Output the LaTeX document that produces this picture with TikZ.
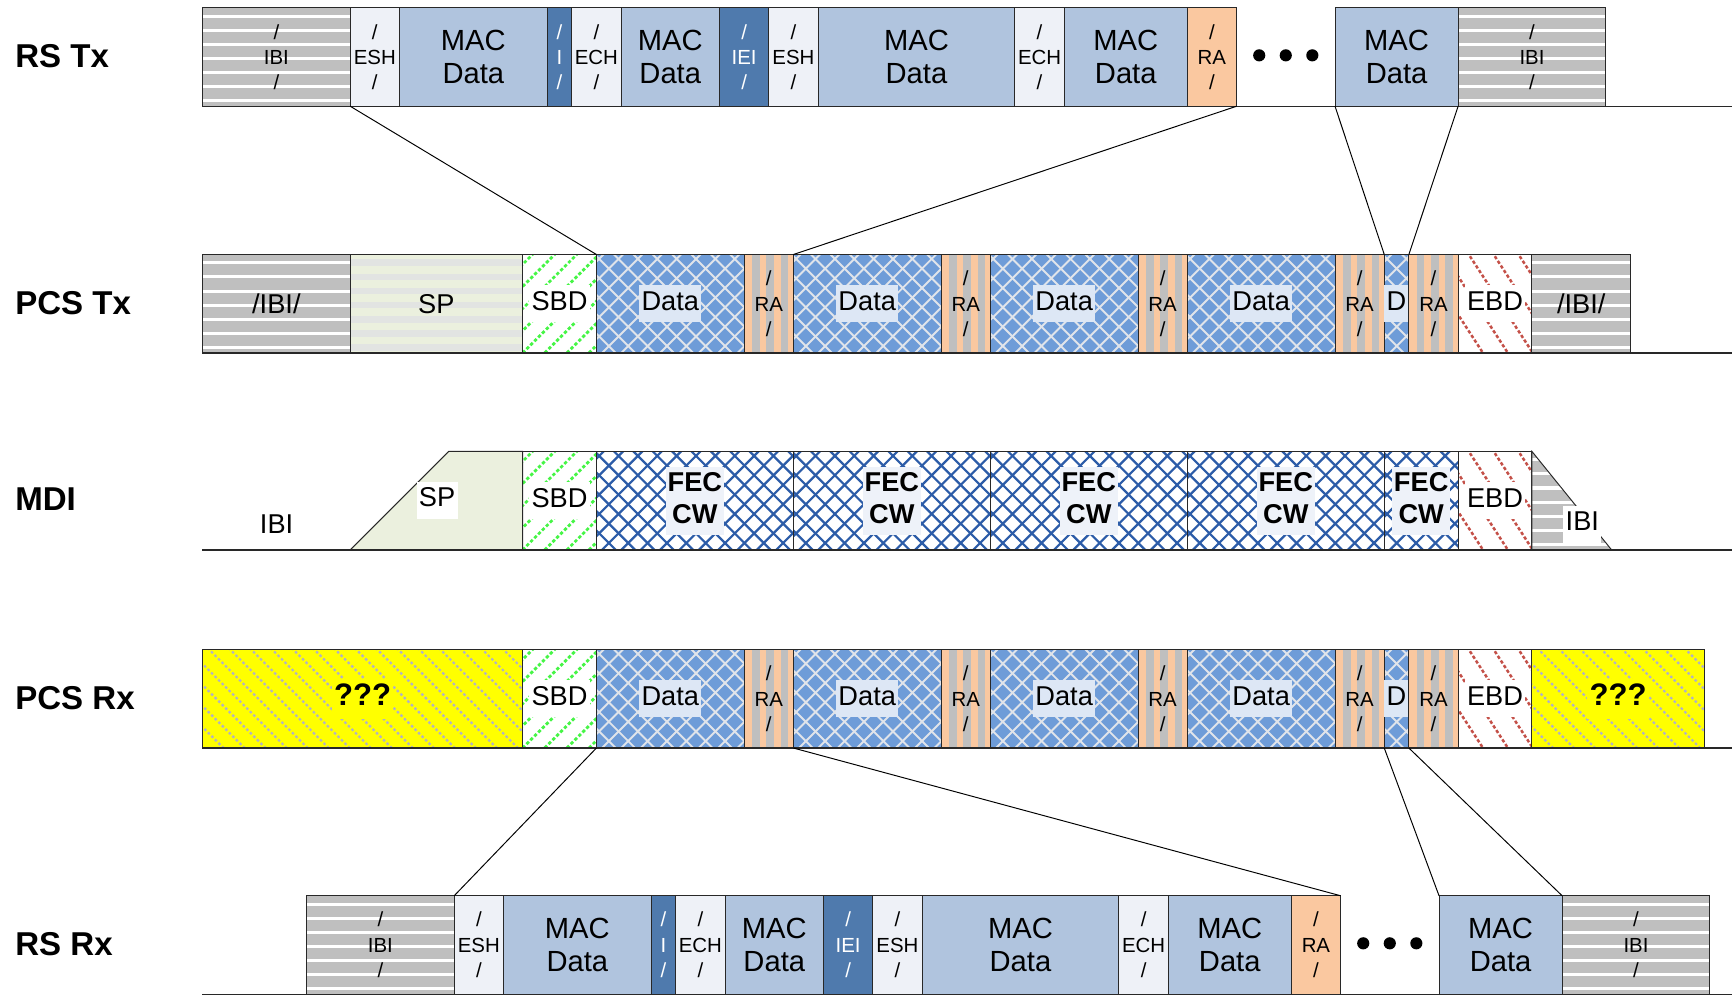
\documentclass[tikz,border=0pt]{standalone}
\usepackage{fontspec}
\setmainfont{Liberation Sans}
\usepackage{xcolor}
\usepackage{tikz}
\usetikzlibrary{
  positioning,
  calc
}
\definecolor{ibigray}{RGB}{191,191,191}
\definecolor{hdrblue}{RGB}{238,241,247}
\definecolor{macblue}{RGB}{176,196,222}
\definecolor{idleblue}{RGB}{79,122,173}
\definecolor{rapeach}{RGB}{250,200,160}
\definecolor{datablue}{RGB}{110,156,216}
\definecolor{databg}{RGB}{221,231,245}
\definecolor{datagrid}{RGB}{224,228,234}
\definecolor{fecblue}{RGB}{44,92,168}
\definecolor{fecbg}{RGB}{238,242,249}
\definecolor{sbdgreen}{RGB}{70,245,70}
\definecolor{ebdred}{RGB}{196,80,72}
\definecolor{unkyellow}{RGB}{255,255,0}
\definecolor{unkgrid}{RGB}{178,178,196}
\definecolor{spgreen}{RGB}{235,240,222}
\definecolor{spstripe}{RGB}{226,228,226}
\definecolor{outline}{RGB}{40,40,40}
\newcommand{\smalltxt}{\fontsize{10.5}{13}\selectfont}
\newcommand{\bigtxt}{\fontsize{15}{16.5}\selectfont}
\newcommand{\midtxt}{\fontsize{14}{16.5}\selectfont}
\newcommand{\rowtxt}{\fontsize{17}{20}\selectfont\bfseries}
\newcommand{\unktxt}{\fontsize{16}{18}\selectfont\bfseries}
\newcommand{\onbg}[2]{{\setlength{\fboxsep}{1.2pt}\colorbox{#1}{\strut #2}}}
\newcommand{\fectext}{{\setlength{\fboxsep}{1pt}\colorbox{fecbg}{\begin{tabular}{@{}c@{}}FEC\\CW\end{tabular}}}}
\newcommand{\slotw}{8.9mm}

\begin{document}
\begin{tikzpicture}[
  seg/.style={rectangle,draw=outline,line width=0.5pt,inner sep=0pt,outer sep=0pt,minimum height=17.8mm,align=center},
  ibi/.style={seg,fill=ibigray,font=\smalltxt,
    path picture={
      \foreach \k in {0,...,6}
        \draw[white,line width=0.55mm]
          ([yshift=-1.5mm-\k*2.55mm]path picture bounding box.north west) --
          ([yshift=-1.5mm-\k*2.55mm]path picture bounding box.north east);
    }},
  hdr/.style={seg,fill=hdrblue,font=\smalltxt},
  mac/.style={seg,fill=macblue,font=\bigtxt},
  idle/.style={seg,fill=idleblue,text=white,font=\smalltxt},
  ra/.style={seg,fill=rapeach,font=\smalltxt},
  rastripe/.style={seg,fill=rapeach,font=\smalltxt,
    path picture={
      \foreach \k in {0,1,2}
        \fill[ibigray] ([xshift=1.4mm+\k*2.6mm]path picture bounding box.south west) rectangle ++(1.4mm,20mm);
    }},
  spband/.style={seg,fill=spgreen,font=\midtxt,
    path picture={
      \foreach \k in {0,...,6}
        \draw[spstripe,line width=1.2mm]
          ([yshift=-1.5mm-\k*2.55mm]path picture bounding box.north west) --
          ([yshift=-1.5mm-\k*2.55mm]path picture bounding box.north east);
    }},
  lattice/.style 2 args={
    path picture={
      \foreach \k in {0,...,17}{
        \draw[#1,line width=#2] ($(path picture bounding box.south west)+(\k*3.5mm-20mm,0)$) -- ++(20mm,20mm);
        \draw[#1,line width=#2] ($(path picture bounding box.south west)+(\k*3.5mm,0)$) -- ++(-20mm,20mm);
      }
    }},
  data/.style={seg,fill=datablue,font=\midtxt,lattice={datagrid}{0.35mm}},
  fec/.style={seg,fill=white,font=\midtxt\bfseries,lattice={fecblue}{0.4mm}},
  sbd/.style={seg,fill=white,font=\midtxt,
    path picture={
      \foreach \k in {0,...,10}
        \draw[sbdgreen,line width=0.5mm,dash pattern=on 0.6mm off 0.4mm]
          ($(path picture bounding box.south west)+(\k*4mm-20mm,0)$) -- ++(20mm,20mm);
    }},
  ebd/.style={seg,fill=white,font=\midtxt,
    path picture={
      \foreach \k in {0,...,8}
        \draw[ebdred,line width=0.45mm,dash pattern=on 0.6mm off 0.4mm]
          ($(path picture bounding box.south west)+(\k*4.5mm-13mm,20mm)$) -- ++(13mm,-20mm);
    }},
  unk/.style={seg,fill=unkyellow,font=\unktxt,
    path picture={
      \foreach \k in {0,...,22}
        \draw[unkgrid,line width=0.4mm,dash pattern=on 0.45mm off 0.45mm]
          ($(path picture bounding box.south west)+(\k*3.8mm-20mm,20mm)$) -- ++(20mm,-20mm);
    }},
  spsolid/.style={fill=spgreen,draw=outline,line width=0.5pt},
  rowlabel/.style={anchor=west,font=\rowtxt,inner sep=0pt},
  rowline/.style={draw=outline,line width=0.6pt},
  link/.style={draw=black,line width=0.5pt},
]
\useasboundingbox (0,0) rectangle (313.6mm,-180mm);
\coordinate (edgeL) at (36.6mm,0);
\coordinate (edgeR) at (313mm,0);

% row labels
\node[rowlabel] (lblRSTx) at (2.7mm,-10.1mm) {RS Tx};
\node[rowlabel] (lblPCSTx) at (2.7mm,-54.7mm) {PCS Tx};
\node[rowlabel] (lblMDI) at (2.7mm,-90.3mm) {MDI};
\node[rowlabel] (lblPCSRx) at (2.7mm,-126.1mm) {PCS Rx};
\node[rowlabel] (lblRSRx) at (2.7mm,-170.6mm) {RS Rx};

% RS Tx
\node[ibi,minimum width=3*\slotw,anchor=west] (txIBI1) at (36.6mm,-10.3mm) {/\\IBI\\/};
\node[hdr,minimum width=\slotw,right=0pt of txIBI1] (txESH1) {/\\ESH\\/};
\node[mac,minimum width=3*\slotw,right=0pt of txESH1] (txMAC1) {MAC\\Data};
\node[idle,minimum width=0.5*\slotw,right=0pt of txMAC1] (txI) {/\\I\\/};
\node[hdr,minimum width=\slotw,right=0pt of txI] (txECH1) {/\\ECH\\/};
\node[mac,minimum width=2*\slotw,right=0pt of txECH1] (txMAC2) {MAC\\Data};
\node[idle,minimum width=\slotw,right=0pt of txMAC2] (txIEI) {/\\IEI\\/};
\node[hdr,minimum width=\slotw,right=0pt of txIEI] (txESH2) {/\\ESH\\/};
\node[mac,minimum width=4*\slotw,right=0pt of txESH2] (txMAC3) {MAC\\Data};
\node[hdr,minimum width=\slotw,right=0pt of txMAC3] (txECH2) {/\\ECH\\/};
\node[mac,minimum width=2.5*\slotw,right=0pt of txECH2] (txMAC4) {MAC\\Data};
\node[ra,minimum width=\slotw,right=0pt of txMAC4] (txRA) {/\\RA\\/};
\node[mac,minimum width=2.5*\slotw,right=17.8mm of txRA] (txMAC5) {MAC\\Data};
\node[ibi,minimum width=3*\slotw,right=0pt of txMAC5] (txIBI2) {/\\IBI\\/};
\foreach \dx in {-4.8,0,4.8}
  \fill ($(txRA.east)!0.5!(txMAC5.west)+(\dx mm,0.3mm)$) circle (1.1mm);
\draw[rowline] (txIBI1.south west) -- (edgeR |- txIBI1.south);

% PCS Tx
\node[ibi,font=\midtxt,minimum width=3*\slotw,anchor=west] (ptxIBI1) at (36.6mm,-54.9mm) {/IBI/};
\node[spband,minimum width=3.5*\slotw,right=0pt of ptxIBI1] (ptxSP) {SP};
\node[sbd,minimum width=1.5*\slotw,right=0pt of ptxSP] (ptxSBD) {\onbg{white}{SBD}};
\node[data,minimum width=3*\slotw,right=0pt of ptxSBD] (ptxData1) {\onbg{databg}{Data}};
\node[rastripe,minimum width=\slotw,right=0pt of ptxData1] (ptxRA1) {/\\RA\\/};
\node[data,minimum width=3*\slotw,right=0pt of ptxRA1] (ptxData2) {\onbg{databg}{Data}};
\node[rastripe,minimum width=\slotw,right=0pt of ptxData2] (ptxRA2) {/\\RA\\/};
\node[data,minimum width=3*\slotw,right=0pt of ptxRA2] (ptxData3) {\onbg{databg}{Data}};
\node[rastripe,minimum width=\slotw,right=0pt of ptxData3] (ptxRA3) {/\\RA\\/};
\node[data,minimum width=3*\slotw,right=0pt of ptxRA3] (ptxData4) {\onbg{databg}{Data}};
\node[rastripe,minimum width=\slotw,right=0pt of ptxData4] (ptxRA4) {/\\RA\\/};
\node[data,minimum width=0.5*\slotw,right=0pt of ptxRA4] (ptxD) {\onbg{databg}{D}};
\node[rastripe,minimum width=\slotw,right=0pt of ptxD] (ptxRA5) {/\\RA\\/};
\node[ebd,minimum width=1.5*\slotw,right=0pt of ptxRA5] (ptxEBD) {\onbg{white}{EBD}};
\node[ibi,font=\midtxt,minimum width=2*\slotw,right=0pt of ptxEBD] (ptxIBI2) {/IBI/};
\draw[rowline] (ptxIBI1.south west) -- (edgeR |- ptxIBI1.south);

% MDI
\node[sbd,minimum width=1.5*\slotw,anchor=west] (mdiSBD) at (94.45mm,-90.5mm) {\onbg{white}{SBD}};
\node[fec,minimum width=4*\slotw,right=0pt of mdiSBD] (mdiFEC1) {\fectext};
\node[fec,minimum width=4*\slotw,right=0pt of mdiFEC1] (mdiFEC2) {\fectext};
\node[fec,minimum width=4*\slotw,right=0pt of mdiFEC2] (mdiFEC3) {\fectext};
\node[fec,minimum width=4*\slotw,right=0pt of mdiFEC3] (mdiFEC4) {\fectext};
\node[fec,minimum width=1.5*\slotw,right=0pt of mdiFEC4] (mdiFEC5) {\fectext};
\node[ebd,minimum width=1.5*\slotw,right=0pt of mdiFEC5] (mdiEBD) {\onbg{white}{EBD}};
\draw[spsolid] (mdiSBD.south west) -- ++(-31.15mm,0) -- ++(17.8mm,17.8mm) -- (mdiSBD.north west) -- cycle;
\draw[ibi] (mdiEBD.north east) -- (mdiEBD.south east) -- ++(14.4mm,0) -- cycle;
\node[font=\midtxt,inner sep=0pt] (mdiSP) at (79mm,-90.4mm) {\onbg{white}{SP}};
\node[font=\midtxt,inner sep=0pt] (mdiIBI1) at (50mm,-94.8mm) {IBI};
\node[font=\midtxt,inner sep=0pt] (mdiIBI2) at (286mm,-94.8mm) {\onbg{white}{IBI}};
\draw[rowline] (edgeL |- mdiSBD.south) -- (edgeR |- mdiSBD.south);

% PCS Rx
\node[unk,minimum width=6.5*\slotw,anchor=west] (prxUnk1) at (36.6mm,-126.3mm) {\onbg{unkyellow}{???}};
\node[sbd,minimum width=1.5*\slotw,right=0pt of prxUnk1] (prxSBD) {\onbg{white}{SBD}};
\node[data,minimum width=3*\slotw,right=0pt of prxSBD] (prxData1) {\onbg{databg}{Data}};
\node[rastripe,minimum width=\slotw,right=0pt of prxData1] (prxRA1) {/\\RA\\/};
\node[data,minimum width=3*\slotw,right=0pt of prxRA1] (prxData2) {\onbg{databg}{Data}};
\node[rastripe,minimum width=\slotw,right=0pt of prxData2] (prxRA2) {/\\RA\\/};
\node[data,minimum width=3*\slotw,right=0pt of prxRA2] (prxData3) {\onbg{databg}{Data}};
\node[rastripe,minimum width=\slotw,right=0pt of prxData3] (prxRA3) {/\\RA\\/};
\node[data,minimum width=3*\slotw,right=0pt of prxRA3] (prxData4) {\onbg{databg}{Data}};
\node[rastripe,minimum width=\slotw,right=0pt of prxData4] (prxRA4) {/\\RA\\/};
\node[data,minimum width=0.5*\slotw,right=0pt of prxRA4] (prxD) {\onbg{databg}{D}};
\node[rastripe,minimum width=\slotw,right=0pt of prxD] (prxRA5) {/\\RA\\/};
\node[ebd,minimum width=1.5*\slotw,right=0pt of prxRA5] (prxEBD) {\onbg{white}{EBD}};
\node[unk,minimum width=3.5*\slotw,right=0pt of prxEBD] (prxUnk2) {\onbg{unkyellow}{???}};
\draw[rowline] (prxUnk1.south west) -- (edgeR |- prxUnk1.south);

% RS Rx
\node[ibi,minimum width=3*\slotw,anchor=west] (rxIBI1) at (55.4mm,-170.8mm) {/\\IBI\\/};
\node[hdr,minimum width=\slotw,right=0pt of rxIBI1] (rxESH1) {/\\ESH\\/};
\node[mac,minimum width=3*\slotw,right=0pt of rxESH1] (rxMAC1) {MAC\\Data};
\node[idle,minimum width=0.5*\slotw,right=0pt of rxMAC1] (rxI) {/\\I\\/};
\node[hdr,minimum width=\slotw,right=0pt of rxI] (rxECH1) {/\\ECH\\/};
\node[mac,minimum width=2*\slotw,right=0pt of rxECH1] (rxMAC2) {MAC\\Data};
\node[idle,minimum width=\slotw,right=0pt of rxMAC2] (rxIEI) {/\\IEI\\/};
\node[hdr,minimum width=\slotw,right=0pt of rxIEI] (rxESH2) {/\\ESH\\/};
\node[mac,minimum width=4*\slotw,right=0pt of rxESH2] (rxMAC3) {MAC\\Data};
\node[hdr,minimum width=\slotw,right=0pt of rxMAC3] (rxECH2) {/\\ECH\\/};
\node[mac,minimum width=2.5*\slotw,right=0pt of rxECH2] (rxMAC4) {MAC\\Data};
\node[ra,minimum width=\slotw,right=0pt of rxMAC4] (rxRA) {/\\RA\\/};
\node[mac,minimum width=2.5*\slotw,right=17.8mm of rxRA] (rxMAC5) {MAC\\Data};
\node[ibi,minimum width=3*\slotw,right=0pt of rxMAC5] (rxIBI2) {/\\IBI\\/};
\foreach \dx in {-4.8,0,4.8}
  \fill ($(rxRA.east)!0.5!(rxMAC5.west)+(\dx mm,0.3mm)$) circle (1.1mm);
\draw[rowline] (edgeL |- rxIBI1.south) -- (edgeR |- rxIBI1.south);

% mapping lines
\draw[link] (txESH1.south west) -- (ptxData1.north west);
\draw[link] (txRA.south east) -- (ptxRA1.north east);
\draw[link] (txMAC5.south west) -- (ptxD.north west);
\draw[link] (txIBI2.south west) -- (ptxD.north east);
\draw[link] (prxData1.south west) -- (rxESH1.north west);
\draw[link] (prxRA1.south east) -- (rxRA.north east);
\draw[link] (prxD.south west) -- (rxMAC5.north west);
\draw[link] (prxD.south east) -- (rxIBI2.north west);
\end{tikzpicture}
\end{document}
